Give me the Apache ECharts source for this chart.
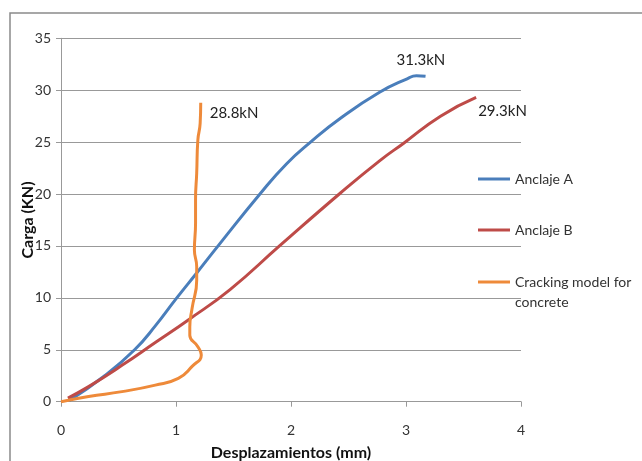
<!DOCTYPE html>
<html>
<head>
<meta charset="utf-8">
<script src="https://cdn.jsdelivr.net/npm/echarts@6/dist/echarts.min.js"></script>
<style>
  html, body { margin: 0; padding: 0; background: #fff; }
  #chart { width: 642px; height: 461px; }
</style>
</head>
<body>
<div id="chart"></div>
<script>
// datos: [desplazamiento mm, carga kN]
var anclajeA = [
  [0.07, 0.1], [0.38, 2.5], [0.64, 5.0], [0.82, 7.3], [1.0, 9.9], [1.18, 12.4],
  [1.38, 15.2], [1.73, 20.0], [1.96, 22.9], [2.17, 25.0], [2.43, 27.3],
  [2.77, 29.8], [3.01, 31.1], [3.09, 31.4], [3.17, 31.35]
];
var anclajeB = [
  [0.06, 0.35], [0.24, 1.45], [0.53, 3.5], [0.82, 5.7], [1.11, 7.9], [1.47, 10.8],
  [1.9, 15.0], [2.43, 20.1], [2.77, 23.2], [2.98, 24.9], [3.3, 27.5], [3.61, 29.3]
];
var cracking = [
  [0.0, 0.0], [0.24, 0.5], [0.53, 0.97], [0.82, 1.6], [1.02, 2.25], [1.14, 3.4],
  [1.22, 4.5], [1.19, 5.3], [1.12, 6.4], [1.12, 7.2], [1.14, 9.0], [1.18, 11.7],
  [1.18, 13.0], [1.16, 14.6], [1.17, 17.2], [1.17, 19.5], [1.18, 22.0],
  [1.19, 25.2], [1.21, 26.8], [1.215, 28.8]
];
var seriesNames = ['Anclaje A', 'Anclaje B', 'Cracking model for concrete'];
var peakLabels = ['31.3kN', '29.3kN', '28.8kN'];

var font = 'Lato, "Open Sans", sans-serif';
var colors = ['#4A7EBB', '#BE4B48', '#EE8A3A'];

var myChart = echarts.init(document.getElementById('chart'));

function legendAt(i, top, wrap) {
  var l = {
    show: true,
    data: [seriesNames[i]],
    left: 478,
    top: top,
    orient: 'vertical',
    padding: 0,
    icon: 'rect',
    itemWidth: 32,
    itemHeight: 3,
    textStyle: { fontFamily: font, fontSize: 14, color: '#333', lineHeight: 20 }
  };
  if (wrap) {
    // linea vacia arriba para que el icono quede con la primera linea
    l.formatter = function () { return ' \nCracking model for\nconcrete'; };
  }
  return l;
}

function makeSeries(i, data, offset) {
  return {
    name: seriesNames[i],
    type: 'line',
    data: data,
    smooth: 0.5,
    showSymbol: false,
    symbol: 'none',
    color: colors[i],
    lineStyle: { width: 3, color: colors[i] },
    endLabel: {
      show: true,
      formatter: peakLabels[i],
      offset: offset,
      fontFamily: font,
      fontSize: 15,
      color: '#222'
    },
    emphasis: { disabled: true }
  };
}

var option = {
  animation: false,
  backgroundColor: '#fff',
  graphic: [{
    type: 'rect',
    shape: { x: 10, y: 13, width: 700, height: 500 },
    style: { fill: 'none', stroke: '#8a8a8a', lineWidth: 1.5 },
    silent: true
  }],
  legend: [legendAt(0, 169), legendAt(1, 220), legendAt(2, 252, true)],
  grid: { left: 61, right: 121, top: 38.3, bottom: 59.3, outerBoundsMode: 'none' },
  xAxis: {
    type: 'value',
    min: 0, max: 4, interval: 1,
    name: 'Desplazamientos (mm)',
    nameLocation: 'middle',
    nameGap: 43,
    nameMoveOverlap: false,
    nameTextStyle: { fontFamily: font, fontSize: 16, fontWeight: 'bold', color: '#111' },
    axisLine: { show: true, onZero: false, lineStyle: { color: '#999', width: 1 } },
    axisTick: { show: true, length: 5, lineStyle: { color: '#999' } },
    axisLabel: { margin: 22, fontFamily: font, fontSize: 14, color: '#333' },
    splitLine: { show: false }
  },
  yAxis: {
    type: 'value',
    min: 0, max: 35, interval: 5,
    name: 'Carga (KN)',
    nameLocation: 'middle',
    nameRotate: 90,
    nameGap: 25,
    nameMoveOverlap: false,
    nameTextStyle: { fontFamily: font, fontSize: 16, fontWeight: 'bold', color: '#111' },
    axisLine: { show: true, lineStyle: { color: '#999', width: 1 } },
    axisTick: { show: true, length: 5, lineStyle: { color: '#999' } },
    axisLabel: { margin: 10, fontFamily: font, fontSize: 14, color: '#333' },
    splitLine: { show: true, lineStyle: { color: '#999', width: 1 } }
  },
  series: [
    makeSeries(0, anclajeA, [-37, -16]),
    makeSeries(1, anclajeB, [-6, 14]),
    makeSeries(2, cracking, [1, 10])
  ]
};
myChart.setOption(option);
</script>
</body>
</html>
